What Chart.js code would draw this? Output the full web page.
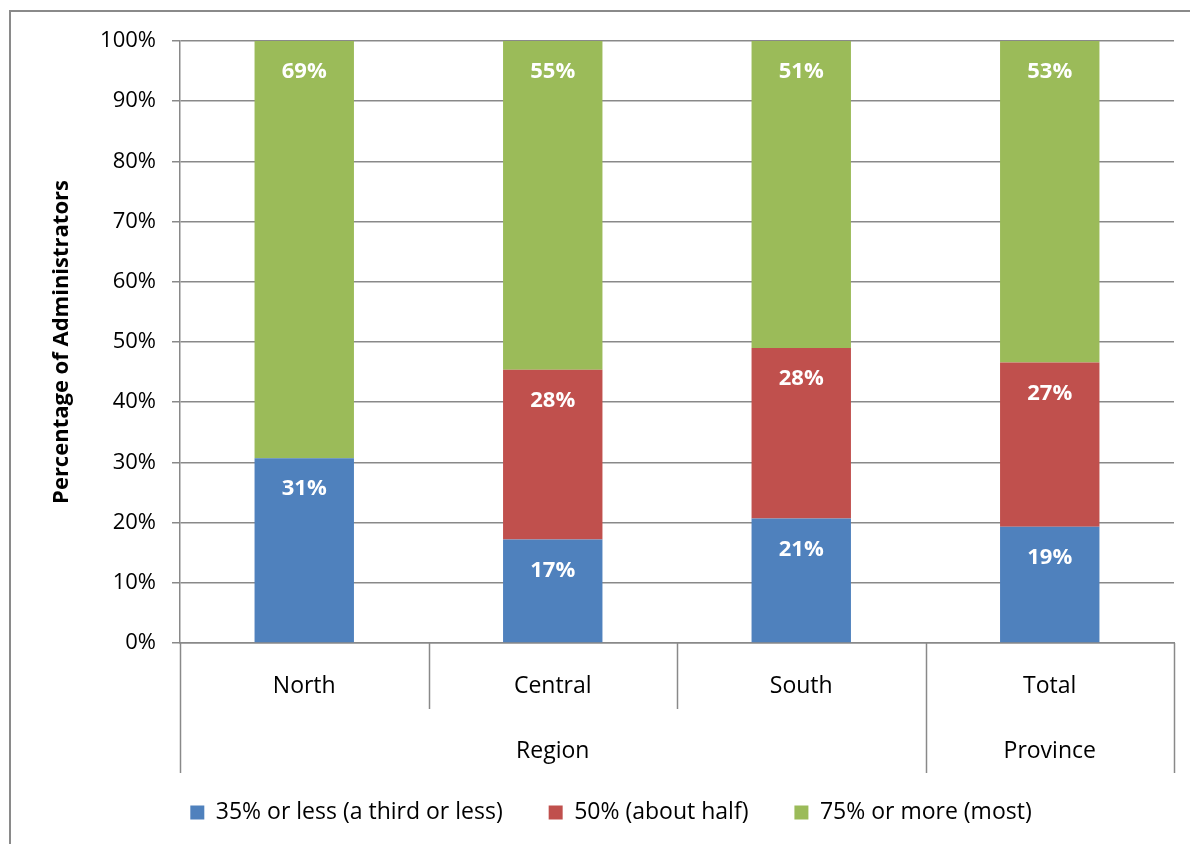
<!DOCTYPE html>
<html>
<head>
<meta charset="utf-8">
<script src="https://cdn.jsdelivr.net/npm/chart.js@4.4.1/dist/chart.umd.min.js"></script>
<style>
  html, body { margin: 0; padding: 0; background: #fff; overflow: hidden; }
  #wrap { position: relative; width: 1190px; height: 844px; }
  #frame { position: absolute; left: 9px; top: 10px; width: 1300px; height: 900px;
           border-left: 2px solid #8a8a8a; border-top: 2px solid #8a8a8a; }
  canvas { position: absolute; left: 0; top: 0; }
</style>
</head>
<body>
<div id="wrap">
  <div id="frame"></div>
  <canvas id="chart" width="1190" height="844"></canvas>
</div>
<script>
// Data
const categories = ["North", "Central", "South", "Total"];
const groups = ["Region", "Region", "Region", "Province"];
const seriesNames = ["35% or less (a third or less)", "50% (about half)", "75% or more (most)"];
const thirdOrLess = [30.7, 17.2, 20.7, 19.3];
const aboutHalf = [0, 28.2, 28.3, 27.3];
const most = [69.3, 54.6, 51.0, 53.4];
const yTicks = [0, 10, 20, 30, 40, 50, 60, 70, 80, 90, 100];

const colors = ["#4F81BD", "#C0504D", "#9BBB59"];
const gridColor = "#898989";
const FONT = "'Open Sans', 'DejaVu Sans', sans-serif";

// white bold labels near the top of each segment
const segmentLabels = {
    id: "segmentLabels",
    afterDatasetsDraw(chart) {
        const ctx = chart.ctx;
        ctx.save();
        ctx.fillStyle = "#fff";
        ctx.font = "bold 22px " + FONT;
        ctx.textAlign = "center";
        ctx.textBaseline = "middle";
        chart.data.datasets.forEach((ds, di) => {
            chart.getDatasetMeta(di).data.forEach((bar, i) => {
                const v = ds.data[i];
                if (!v) return;
                ctx.fillText(Math.round(v) + "%", bar.x, bar.y + 31);
            });
        });
        ctx.restore();
    }
};

// two-level category axis: labels, group names and separator lines
const multiLevelAxis = {
    id: "multiLevelAxis",
    afterDraw(chart) {
        const ctx = chart.ctx;
        const x = chart.scales.x;
        const top = chart.chartArea.bottom;
        const row1 = top + 66, row2 = top + 130;
        const step = (x.right - x.left) / categories.length;
        ctx.save();
        ctx.strokeStyle = gridColor;
        ctx.lineWidth = 1.5;
        for (let i = 0; i <= categories.length; i++) {
            const px = Math.round(x.left + i * step) + 0.5;
            const groupEdge = i === 0 || i === categories.length || groups[i] !== groups[i - 1];
            ctx.beginPath();
            ctx.moveTo(px, top);
            ctx.lineTo(px, groupEdge ? row2 : row1);
            ctx.stroke();
        }
        ctx.fillStyle = "#000";
        ctx.font = "23px " + FONT;
        ctx.textAlign = "center";
        ctx.textBaseline = "middle";
        categories.forEach((c, i) => {
            ctx.fillText(c, x.getPixelForValue(i), top + 43);
        });
        // group names centred over their span
        let start = 0;
        for (let i = 1; i <= groups.length; i++) {
            if (i === groups.length || groups[i] !== groups[start]) {
                const cx = (x.getPixelForValue(start) + x.getPixelForValue(i - 1)) / 2;
                ctx.fillText(groups[start], cx, top + 108);
                start = i;
            }
        }
        ctx.restore();
    }
};

const ctx = document.getElementById("chart").getContext("2d");
new Chart(ctx, {
    type: "bar",
    data: {
        labels: categories,
        datasets: [
            { label: seriesNames[0], data: thirdOrLess, backgroundColor: colors[0] },
            { label: seriesNames[1], data: aboutHalf, backgroundColor: colors[1] },
            { label: seriesNames[2], data: most, backgroundColor: colors[2] }
        ]
    },
    options: {
        responsive: false,
        animation: false,
        layout: { padding: { top: 41, right: 16, left: 48, bottom: 10 } },
        datasets: { bar: { categoryPercentage: 1, barPercentage: 0.4 } },
        plugins: {
            legend: {
                position: "bottom",
                labels: { boxWidth: 14, boxHeight: 14, padding: 46, color: "#000", font: { family: FONT, size: 23 } }
            },
            tooltip: { enabled: false }
        },
        scales: {
            x: {
                stacked: true,
                grid: { display: false },
                border: { color: gridColor, width: 1.5 },
                ticks: { display: false },
                afterFit: s => { s.height = 112; }
            },
            y: {
                stacked: true,
                min: 0, max: 100,
                afterBuildTicks: s => { s.ticks = yTicks.map(v => ({ value: v })); },
                ticks: { color: "#000", padding: 16, font: { family: FONT, size: 22 }, callback: v => v + "%" },
                grid: { color: gridColor, lineWidth: 1.5, tickLength: 8 },
                border: { color: gridColor, width: 1.5 },
                title: { display: true, text: "Percentage of Administrators", color: "#000",
                         font: { family: FONT, size: 22, weight: "bold" }, padding: { top: 1, bottom: 0 } },
                afterFit: s => { s.width = 132; }
            }
        }
    },
    plugins: [segmentLabels, multiLevelAxis]
});
</script>
</body>
</html>
